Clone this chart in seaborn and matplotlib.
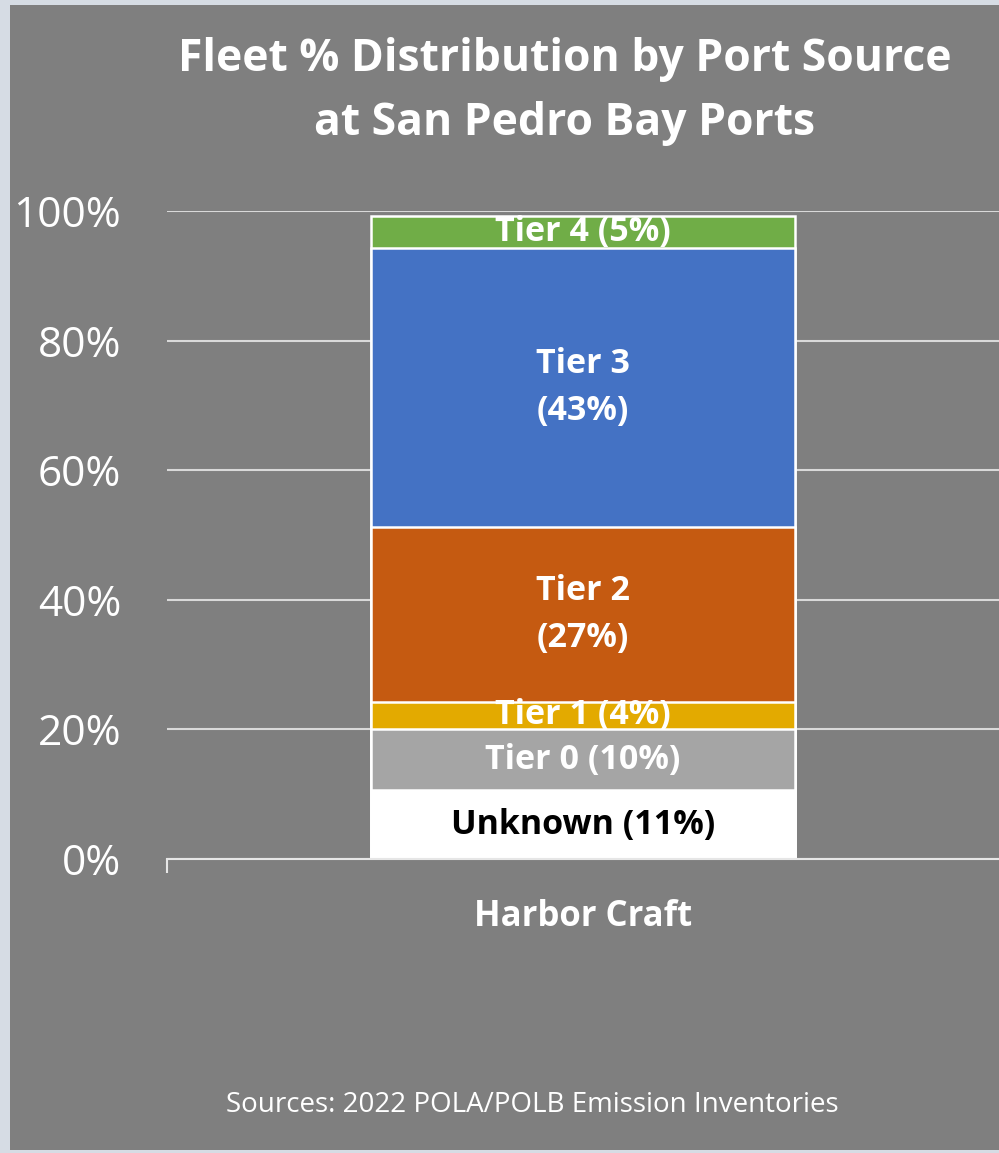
import matplotlib
matplotlib.use("Agg")
import matplotlib.pyplot as plt
import seaborn as sns
import pandas as pd
import numpy as np
from matplotlib.patches import Rectangle

# ---- data ----
category = ["Harbor Craft"]
tiers = ["Unknown", "Tier 0", "Tier 1", "Tier 2", "Tier 3", "Tier 4"]
shares = [10.6, 9.5, 4.1, 27.0, 43.1, 4.9]
labels = ["Unknown (11%)", "Tier 0 (10%)", "Tier 1 (4%)", "Tier 2\n(27%)", "Tier 3\n(43%)", "Tier 4 (5%)"]
colors = ["#ffffff", "#a5a5a5", "#e3aa00", "#c55a11", "#4472c4", "#70ad47"]
label_colors = ["#000000", "#ffffff", "#ffffff", "#ffffff", "#ffffff", "#ffffff"]
yticks = [0, 20, 40, 60, 80, 100]
ytick_labels = ["0%", "20%", "40%", "60%", "80%", "100%"]

sns.set_theme(style="white")
plt.rcParams["font.family"] = ["Open Sans", "DejaVu Sans"]

W, H = 999, 1153
fig = plt.figure(figsize=(W / 100, H / 100), dpi=100)
fig.patch.set_facecolor("#d6dce4")
fig.patches.append(Rectangle((10 / W, 3 / H), 1 - 10 / W, 1 - 8 / H,
                             transform=fig.transFigure, facecolor="#7f7f7f",
                             edgecolor="none", zorder=-10))

ax = fig.add_axes([167 / W, (H - 859) / H, (W - 167) / W, 648 / H])
ax.set_zorder(1)
ax.set_facecolor("none")

cum = np.cumsum(shares)
# draw stacked segments from the top down (cumulative totals)
for i in range(len(tiers) - 1, -1, -1):
    df = pd.DataFrame({"cat": category, "val": [cum[i]]})
    sns.barplot(data=df, x="cat", y="val", color=colors[i], saturation=1,
                width=0.51, edgecolor="white", linewidth=1.8, ax=ax, zorder=3)

# segment labels
bottoms = np.concatenate([[0], cum[:-1]])
for i in range(len(tiers)):
    ax.text(0, bottoms[i] + shares[i] / 2, labels[i], ha="center", va="center",
            color=label_colors[i], fontsize=24.5, fontweight="bold",
            linespacing=1.5, zorder=5)

ax.set_ylim(0, 100)
ax.set_xlim(-0.5, 0.5)
ax.set_yticks(yticks)
ax.set_yticklabels(ytick_labels)
ax.yaxis.grid(True, color="#d9d9d9", linewidth=1.5, zorder=1)
ax.set_axisbelow(True)
for s in ["left", "right", "top"]:
    ax.spines[s].set_visible(False)
ax.spines["bottom"].set_color("#e6e6e6")
ax.spines["bottom"].set_linewidth(1.5)
ax.spines["bottom"].set_zorder(4)
ax.tick_params(axis="y", length=0, pad=33, labelsize=30.5, labelcolor="white")
ax.tick_params(axis="x", which="major", length=0, pad=29, labelsize=25,
               labelcolor="white")
for t in ax.get_xticklabels():
    t.set_fontweight("bold")
ax.set_xticks([-0.5], minor=True)
ax.tick_params(axis="x", which="minor", bottom=True, length=10, width=1.5,
               color="#e6e6e6", direction="out")
ax.set_xlabel("")
ax.set_ylabel("")

fig.text(565 / W, 1 - 59 / H, "Fleet % Distribution by Port Source",
         ha="center", va="center", color="white", fontsize=32, fontweight="bold")
fig.text(565 / W, 1 - 124 / H, "at San Pedro Bay Ports",
         ha="center", va="center", color="white", fontsize=32, fontweight="bold")
fig.text(532 / W, 1 - 1105 / H, "Sources: 2022 POLA/POLB Emission Inventories",
         ha="center", va="center", color="white", fontsize=20)

fig.savefig("out.png", dpi=100, facecolor=fig.get_facecolor())
